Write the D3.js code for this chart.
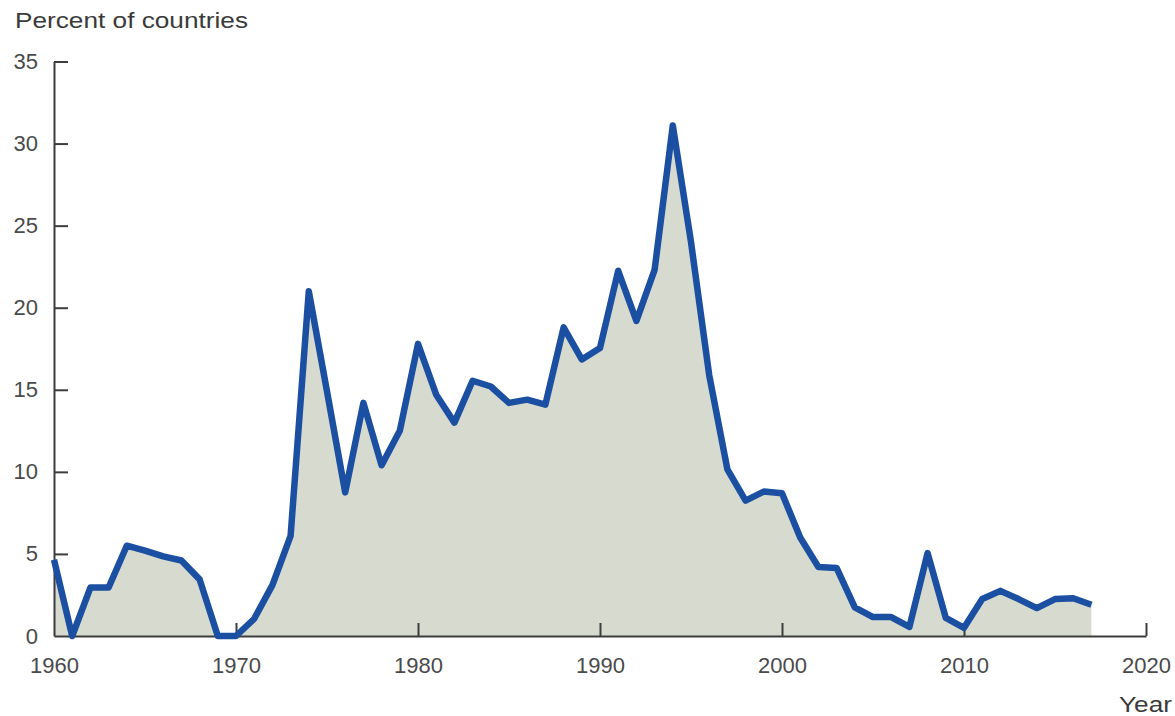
<!DOCTYPE html>
<html>
<head>
<meta charset="utf-8">
<script src="https://cdn.jsdelivr.net/npm/d3@7"></script>
<style>
  html, body { margin: 0; padding: 0; background: #ffffff; }
  svg { display: block; }
  text { font-family: "Liberation Sans", Arial, Helvetica, sans-serif; }
</style>
</head>
<body>
<svg id="chart" width="1175" height="716"></svg>
<script>
const years = [1960,1961,1962,1963,1964,1965,1966,1967,1968,1969,
               1970,1971,1972,1973,1974,1975,1976,1977,1978,1979,
               1980,1981,1982,1983,1984,1985,1986,1987,1988,1989,
               1990,1991,1992,1993,1994,1995,1996,1997,1998,1999,
               2000,2001,2002,2003,2004,2005,2006,2007,2008,2009,
               2010,2011,2012,2013,2014,2015,2016,2017];
const percentOfCountries = [4.65,0,2.95,2.95,5.5,5.2,4.85,4.6,3.45,0,
               0,1.05,3.1,6.1,21.0,14.9,8.75,14.2,10.4,12.5,
               17.8,14.7,13.0,15.55,15.2,14.2,14.4,14.1,18.8,16.85,
               17.55,22.25,19.2,22.3,31.1,24.0,15.9,10.15,8.25,8.8,
               8.7,6.0,4.2,4.15,1.75,1.15,1.15,0.55,5.05,1.1,
               0.5,2.25,2.75,2.25,1.7,2.25,2.3,1.9];
const xTicks = [1960,1970,1980,1990,2000,2010,2020];
const yTicks = [0,5,10,15,20,25,30,35];
const yTitle = "Percent of countries";
const xTitle = "Year";

const data = years.map((yr, i) => ({ year: yr, value: percentOfCountries[i] }));

const svg = d3.select("#chart");
const x = d3.scaleLinear().domain([1960, 2020]).range([54, 1146]);
const y = d3.scaleLinear().domain([0, 35]).range([636, 61.5]);

const textColor = "#4a4a4a";
const axisColor = "#3d3d3d";

// area
svg.append("path")
  .datum(data)
  .attr("fill", "#d6dacf")
  .attr("d", d3.area().x(d => x(d.year)).y0(y(0)).y1(d => y(d.value)));

// axes
const xAxis = svg.append("g")
  .attr("transform", `translate(0,${y(0)})`)
  .call(d3.axisBottom(x).tickValues(xTicks).tickFormat(d3.format("d"))
        .tickSize(-13).tickSizeOuter(0).tickPadding(21));
const yAxis = svg.append("g")
  .attr("transform", `translate(${x(1960)},0)`)
  .call(d3.axisLeft(y).tickValues(yTicks).tickFormat(d3.format("d"))
        .tickSize(-14).tickSizeOuter(0).tickPadding(16));

[xAxis, yAxis].forEach(g => {
  g.select(".domain").attr("stroke", axisColor).attr("stroke-width", 2);
  g.selectAll(".tick line").attr("stroke", axisColor).attr("stroke-width", 2);
  g.selectAll(".tick text")
    .attr("fill", textColor)
    .style("font-size", "22px")
    .style("font-family", "'Liberation Sans', Arial, sans-serif");
});
yAxis.selectAll(".tick").filter(d => d === 0).select("line").remove();
xAxis.selectAll(".tick").filter(d => d === 1960).select("line").remove();

// line
svg.append("path")
  .datum(data)
  .attr("fill", "none")
  .attr("stroke", "#1b4fa2")
  .attr("stroke-width", 6.5)
  .attr("stroke-linejoin", "round")
  .attr("d", d3.line().x(d => x(d.year)).y(d => y(d.value)));

// titles
svg.append("text")
  .attr("x", 15).attr("y", 28)
  .attr("fill", "#3a3a3a")
  .style("font-size", "22px")
  .attr("textLength", 233)
  .attr("lengthAdjust", "spacingAndGlyphs")
  .text(yTitle);

svg.append("text")
  .attr("x", 1119).attr("y", 712)
  .attr("fill", "#3a3a3a")
  .style("font-size", "22px")
  .attr("textLength", 53)
  .attr("lengthAdjust", "spacingAndGlyphs")
  .text(xTitle);
</script>
</body>
</html>
